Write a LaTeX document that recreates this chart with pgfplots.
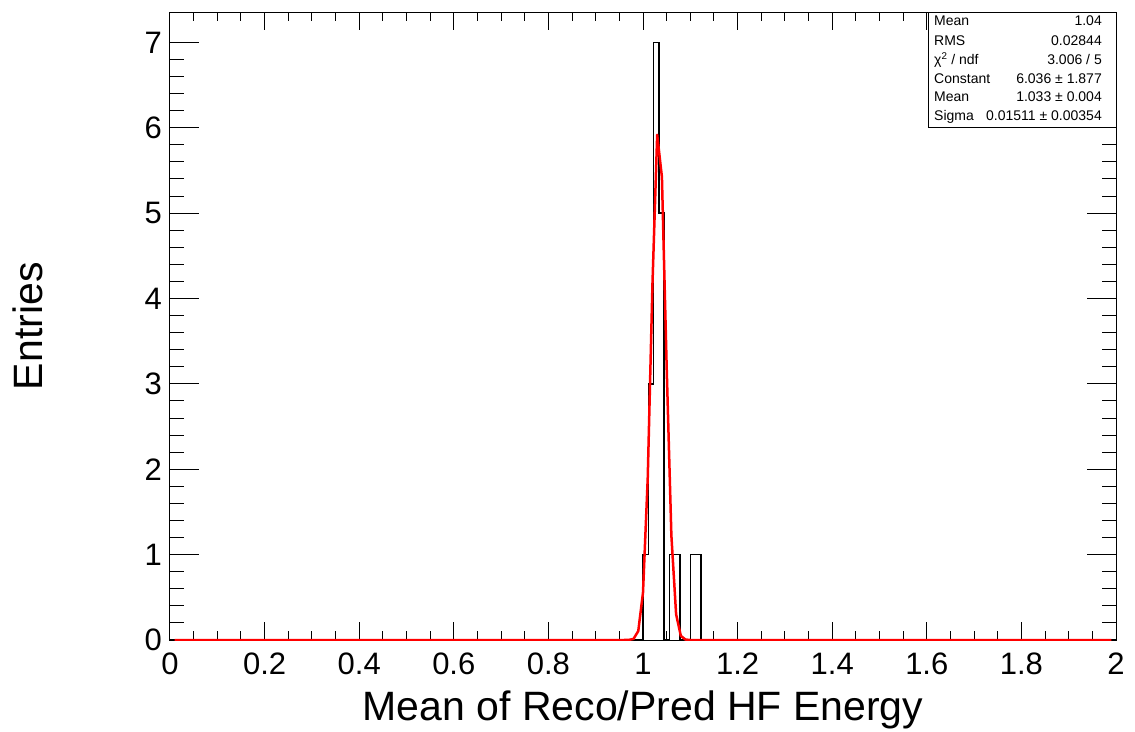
\documentclass[border=0pt]{standalone}
\usepackage{fontspec}
\setmainfont{Liberation Sans}
\usepackage{pgfplots}
\pgfplotsset{compat=1.18}
\begin{document}
\begin{tikzpicture}
\path[use as bounding box] (-170pt,-91pt) rectangle (965pt,640pt);
\begin{axis}[
  at={(0pt,0pt)}, anchor=south west,
  scale only axis, width=946pt, height=627.5pt,
  xmin=0, xmax=2, ymin=0, ymax=7.35,
  axis line style={line width=1pt},
  tick align=inside,
  xtick={0,0.2,0.4,0.6,0.8,1,1.2,1.4,1.6,1.8,2},
  xticklabels={0,0.2,0.4,0.6,0.8,1,1.2,1.4,1.6,1.8,2},
  ytick={0,1,2,3,4,5,6,7},
  yticklabels={0,1,2,3,4,5,6,7},
  minor x tick num=3, minor y tick num=4,
  xtick style={black, line width=1pt, /pgfplots/major tick length=18pt, /pgfplots/minor tick length=9pt},
  ytick style={black, line width=1pt, /pgfplots/major tick length=29pt, /pgfplots/minor tick length=14.5pt},
  /pgf/number format/assume math mode=true,
  ticklabel style={font=\fontsize{31}{37}\selectfont},
  xticklabel style={inner sep=0pt, anchor=north, yshift=-13pt},
  yticklabel style={inner sep=0pt, anchor=east, xshift=-8pt},
  xlabel={Mean of Reco/Pred HF Energy},
  ylabel={Entries},
  label style={font=\fontsize{41}{48}\selectfont},
  xlabel style={at={(axis description cs:0.5,-0.1275)}, anchor=base, inner sep=0pt},
  ylabel style={at={(axis description cs:-0.1353,0.5)}, anchor=base, inner sep=0pt},
]
% histogram outline (bin width 1/90)
\addplot[const plot, black, line width=1.5pt] coordinates {
  (0,0) (1.0,1) (1.01111,3) (1.02222,7) (1.03333,5) (1.04444,0)
  (1.05556,1) (1.07778,0) (1.1,1) (1.12222,0) (2,0)
};
% Gaussian fit curve
\addplot[red, line width=2.5pt, line join=round] coordinates {
  (0.01,0) (0.96,0) (0.97,0.001) (0.98,0.0129) (0.99,0.105) (1.00,0.556)
  (1.01,1.895) (1.02,4.169) (1.03,5.918) (1.04,5.422) (1.05,3.205)
  (1.06,1.223) (1.07,0.301) (1.08,0.0478) (1.09,0.0049) (1.10,0)
  (1.99,0)
};
\end{axis}
% statistics box
\draw[fill=white, line width=1pt] (758pt,512.5pt) rectangle (946pt,627.5pt);
\begin{scope}[every node/.style={font=\fontsize{14}{16}\selectfont, inner sep=0pt}]
\node[anchor=base west] at (764pt,614pt) {Mean};
\node[anchor=base east] at (932pt,614pt) {1.04};
\node[anchor=base west] at (764pt,594pt) {RMS};
\node[anchor=base east] at (932pt,594pt) {0.02844};
\node[anchor=base west] at (764pt,575pt) {χ\textsuperscript{2} / ndf};
\node[anchor=base east] at (932pt,575pt) {3.006 / 5};
\node[anchor=base west] at (764pt,556pt) {Constant};
\node[anchor=base east] at (932pt,556pt) {6.036 ± 1.877};
\node[anchor=base west] at (764pt,538pt) {Mean};
\node[anchor=base east] at (932pt,538pt) {1.033 ± 0.004};
\node[anchor=base west] at (764pt,519pt) {Sigma};
\node[anchor=base east] at (932pt,519pt) {0.01511 ± 0.00354};
\end{scope}
\end{tikzpicture}
\end{document}
